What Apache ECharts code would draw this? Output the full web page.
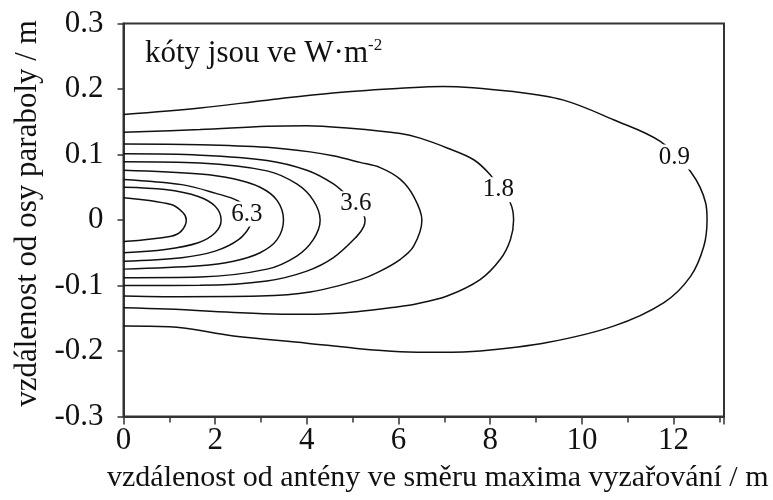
<!DOCTYPE html>
<html><head><meta charset="utf-8">
<script src="https://cdn.jsdelivr.net/npm/echarts/dist/echarts.min.js"></script>
<style>html,body{margin:0;padding:0;background:#fff}#c{width:773px;height:500px}</style>
</head><body><div id="c"></div>
<script>
// contour levels (W·m^-2), each contour as [x (m), y (m)] points
const contour09 = [[0,0.161],[1.67,0.171],[3.13,0.183],[4.57,0.194],[6.04,0.201],[6.98,0.204],[8.51,0.196],[9.6,0.183],[10.69,0.153],[11.71,0.12],[12.37,0.074],[12.7,0.026],[12.73,0],
  [12.66,-0.04],[12.37,-0.086],[11.79,-0.126],[10.69,-0.162],[9.24,-0.187],[7.78,-0.2],[6.91,-0.202],[6.04,-0.201],[5.09,-0.196],[4.0,-0.188],[2.4,-0.177],[1.0,-0.163],[0,-0.162]];
const contour18 = [[0,0.134],[1.67,0.138],[3.13,0.143],[4.0,0.144],[4.94,0.140],[6.04,0.132],[6.47,0.125],[7.06,0.110],[7.64,0.092],[8.0,0.069],[8.22,0.046],[8.44,0.026],[8.51,0],
  [8.44,-0.03],[8.22,-0.06],[7.78,-0.091],[7.06,-0.116],[6.33,-0.129],[6.04,-0.132],[5.09,-0.140],[4.0,-0.144],[3.05,-0.143],[0.94,-0.136],[0,-0.134]];
const contour27 = [[0,0.116],[1.67,0.115],[3.13,0.111],[4.07,0.104],[4.57,0.098],[5.16,0.088],[5.6,0.08],[6.04,0.062],[6.33,0.036],[6.51,0],
  [6.33,-0.040],[6.04,-0.060],[5.6,-0.078],[5.16,-0.091],[4.07,-0.110],[2.98,-0.116],[0.87,-0.117],[0,-0.116]];
const contour36 = [[0,0.101],[1.67,0.099],[3.13,0.091],[4.0,0.076],[4.58,0.055],[4.95,0.032],[5.2,0.012],[5.27,0],
  [5.24,-0.01],[5.09,-0.025],[4.58,-0.0575],[4.0,-0.078],[3.13,-0.093],[1.67,-0.0997],[0,-0.1]];
const contour45 = [[0,0.089],[1.67,0.087],[3.13,0.075],[3.78,0.055],[4.14,0.030],[4.29,0],
  [4.14,-0.030],[3.78,-0.055],[3.13,-0.075],[1.67,-0.087],[0,-0.088]];
const contour54 = [[0,0.076],[1.67,0.0703],[2.4,0.063],[2.98,0.05],[3.35,0.03],[3.49,0],
  [3.35,-0.030],[2.98,-0.050],[2.40,-0.063],[1.67,-0.070],[0,-0.075]];
const contour63 = [[0,0.062],[1.27,0.054],[2.0,0.041],[2.51,0.0286],[2.72,0.012],[2.78,0],
  [2.76,-0.009],[2.51,-0.030],[2.0,-0.0475],[1.27,-0.0575],[0,-0.063]];
const contour72 = [[0,0.05],[0.91,0.0464],[1.63,0.036],[2.0,0.021],[2.13,0],[2.0,-0.0195],[1.63,-0.0347],[0.91,-0.045],[0,-0.05]];
const contour81 = [[0,0.034],[1.04,0.0236],[1.30,0.011],[1.37,0],[1.26,-0.017],[1.04,-0.0247],[0,-0.033]];

const contourLabels = ['0.9','1.8','3.6','6.3'];
const contourLabelX = [12.02, 8.18, 5.07, 2.69];
const contourLabelY = [0.096, 0.046, 0.025, 0.009];

const xMin = 0, xMax = 13.1, xStep = 2;
const yMin = -0.3, yMax = 0.3, yStep = 0.1;

const FONT = 'Liberation Serif';
const INK = '#111';
const AX = '#333';

const chart = echarts.init(document.getElementById('c'), null, {renderer:'canvas'});
const contours = [contour09, contour18, contour27, contour36, contour45, contour54, contour63, contour72, contour81];

const option = {
  animation: false,
  backgroundColor: '#fff',
  grid: {left: 123.5, right: 49, top: 23.5, bottom: 83.5, show: true, borderColor: AX, borderWidth: 2, containLabel: false, outerBoundsMode: 'none'},
  xAxis: {
    type: 'value', min: xMin, max: xMax, interval: xStep,
    name: 'vzdálenost od antény ve směru maxima vyzařování / m',
    nameLocation: 'middle', nameGap: 47,
    nameTextStyle: {fontFamily: FONT, fontSize: 30, color: INK, padding: [0,0,0,28]},
    axisLine: {show: true, onZero: false, lineStyle: {color: AX, width: 2}},
    axisTick: {show: true, inside: false, length: 8, lineStyle: {color: AX, width: 1.5}},
    minorTick: {show: true, splitNumber: 2, length: 6, lineStyle: {color: AX, width: 1.5}},
    splitLine: {show: false}, minorSplitLine: {show: false},
    axisLabel: {show: true, margin: 9, fontFamily: FONT, fontSize: 31, color: INK,
      formatter: v => (Math.abs(v - Math.round(v)) < 1e-6 && Math.round(v) % 2 === 0) ? String(Math.round(v)) : '',
      showMaxLabel: false}
  },
  yAxis: {
    type: 'value', min: yMin, max: yMax, interval: yStep,
    name: 'vzdálenost od osy paraboly / m',
    nameLocation: 'middle', nameGap: 76,
    nameTextStyle: {fontFamily: FONT, fontSize: 31, color: INK, padding: [0,0,0,13]},
    axisLine: {show: true, onZero: false, lineStyle: {color: AX, width: 2}},
    axisTick: {show: true, inside: false, length: 6, lineStyle: {color: AX, width: 1.5}},
    splitLine: {show: false},
    axisLabel: {show: true, margin: 20, fontFamily: FONT, fontSize: 31, color: INK,
      formatter: v => String(Math.round(v * 10) / 10)}
  },
  graphic: [{
    type: 'text', left: 145, top: 37, silent: true,
    style: {
      text: '{a|kóty jsou ve W·m}{s|-2}',
      rich: {
        a: {fontFamily: FONT, fontSize: 31, fill: INK, lineHeight: 33},
        s: {fontFamily: FONT, fontSize: 17, fill: INK, verticalAlign: 'top', lineHeight: 17}
      }
    }
  }],
  series: contours.map(c => ({
    type: 'line', data: c, smooth: 0.35, showSymbol: false, symbol: 'none', silent: true, z: 2,
    lineStyle: {color: '#111', width: 1.5}
  })).concat([{
    type: 'scatter', symbolSize: 1, silent: true, z: 5,
    itemStyle: {color: 'rgba(255,255,255,0)'},
    data: contourLabels.map((t, i) => ({name: t, value: [contourLabelX[i], contourLabelY[i]]})),
    label: {show: true, position: 'inside', formatter: p => p.name, fontFamily: FONT, fontSize: 25,
      color: INK, textBorderWidth: 0, textBorderColor: 'transparent', opacity: 1,
      backgroundColor: '#fff', padding: [0, 1]}
  }])
};
chart.setOption(option);
</script>
</body></html>
